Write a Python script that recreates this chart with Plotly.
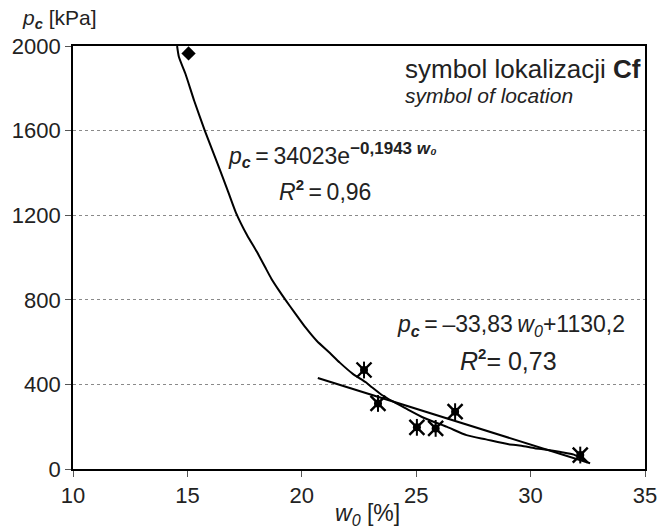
import plotly.graph_objects as go

# Exponential trend curve p_c(w0)
curve_w = [14.55, 14.63, 14.91, 15.30, 15.76, 16.33, 16.75, 17.11, 17.61, 18.03,
           18.39, 18.67, 19.03, 19.31, 19.67, 20.17, 20.66, 21.23, 21.66, 22.23,
           22.80, 23.08, 23.50, 24.00, 24.50, 25.35, 26.35, 27.20, 28.05, 29.04,
           29.60, 30.18, 30.70, 31.32, 31.89, 32.40]
curve_pc = [2000, 1948, 1870, 1740, 1600, 1440, 1320, 1215, 1105, 1028,
            956, 900, 840, 796, 742, 668, 605, 548, 503, 450,
            410, 385, 350, 318, 289, 241, 199, 160, 140, 117,
            110, 98, 91, 80, 68, 36]

# Measured points (star markers)
pts_w = [22.72, 23.33, 25.03, 25.85, 26.70, 32.17]
pts_pc = [468, 310, 197, 192, 271, 66]

# Single point shown with a diamond
dia_w = [15.05]
dia_pc = [1965]

# Linear trend p_c = -33,83 w0 + 1130,2 over its drawn span
lin_slope = -33.83
lin_icept = 1130.2
lin_w = [20.7, 32.6]
lin_pc = [lin_slope * w + lin_icept for w in lin_w]

x_ticks = [10, 15, 20, 25, 30, 35]
y_ticks = [0, 400, 800, 1200, 1600, 2000]

FONT = "Arial, Liberation Sans, Helvetica, sans-serif"
INK = "#222"

fig = go.Figure()

fig.add_trace(go.Scatter(x=curve_w, y=curve_pc, mode="lines",
                         line=dict(color="black", width=2, shape="spline",
                                   smoothing=0.6),
                         showlegend=False))
fig.add_trace(go.Scatter(x=lin_w, y=lin_pc, mode="lines",
                         line=dict(color="black", width=2), showlegend=False))
fig.add_trace(go.Scatter(x=pts_w, y=pts_pc, mode="markers",
                         marker=dict(symbol="x-thin-open", size=15, color="black",
                                     line=dict(color="black", width=2.4)),
                         showlegend=False))
fig.add_trace(go.Scatter(x=pts_w, y=pts_pc, mode="markers",
                         marker=dict(symbol="line-ns-open", size=12, color="black",
                                     line=dict(color="black", width=2)),
                         showlegend=False))
fig.add_trace(go.Scatter(x=pts_w, y=pts_pc, mode="markers",
                         marker=dict(symbol="circle", size=8, color="black"),
                         showlegend=False))
fig.add_trace(go.Scatter(x=dia_w, y=dia_pc, mode="markers",
                         marker=dict(symbol="diamond", size=11, color="black"),
                         showlegend=False))

fig.update_xaxes(range=[10, 35], tickvals=x_ticks, ticks="outside", ticklen=6,
                 tickwidth=1.2, tickcolor="#555", showgrid=False, zeroline=False,
                 showline=True, linecolor="black", linewidth=1.6, mirror=True,
                 tickfont=dict(family=FONT, size=22, color=INK))
fig.update_yaxes(range=[0, 2000], tickvals=y_ticks, ticks="outside", ticklen=6,
                 tickwidth=1.2, tickcolor="#555", showgrid=True,
                 gridcolor="#8a8a8a", gridwidth=1, griddash="3px,3px",
                 zeroline=False, showline=True, linecolor="black", linewidth=1.6,
                 mirror=True, tickfont=dict(family=FONT, size=22, color=INK))

eq_font = dict(family=FONT, size=23, color=INK)
r2_sup = "<sup><b><span style='font-size:15px'>2</span></b></sup>"
annotations = [
    dict(x=-0.093, y=1.065, xref="paper", yref="paper", xanchor="left",
         yanchor="middle", showarrow=False,
         text="<i>p</i><sub><b><i>c</i></b></sub> [kPa]",
         font=dict(family=FONT, size=21, color=INK)),
    dict(x=0.515, y=-0.108, xref="paper", yref="paper", xanchor="center",
         yanchor="middle", showarrow=False,
         text="<i>w</i><sub><i>0</i></sub> [%]",
         font=dict(family=FONT, size=23, color=INK)),
    dict(x=16.7, y=1483, xanchor="left", yanchor="middle", showarrow=False,
         text="<i>p</i><sub><b><i>c</i></b></sub>\u2009=\u200934023e"
              "<sup><span style='font-size:17px'><b>\u22120,1943 "
              "<i>w\u2080</i></b></span></sup>",
         font=eq_font),
    dict(x=21.0, y=1318, xanchor="center", yanchor="middle", showarrow=False,
         text="<i>R</i>" + r2_sup + "\u2009=\u20090,96", font=eq_font),
    dict(x=24.08, y=680, xanchor="left", yanchor="middle", showarrow=False,
         text="<i>p</i><sub><b><i>c</i></b></sub>\u2009=\u2009\u201333,83\u2009"
              "<i>w</i><sub><i>0</i></sub>+1130,2",
         font=eq_font),
    dict(x=29.05, y=515, xanchor="center", yanchor="middle", showarrow=False,
         text="<i>R</i>" + r2_sup + "= 0,73",
         font=dict(family=FONT, size=25, color=INK)),
    dict(x=24.43, y=1890, xanchor="left", yanchor="middle", showarrow=False,
         text="symbol lokalizacji <b>Cf</b>",
         font=dict(family=FONT, size=26, color=INK)),
    dict(x=24.43, y=1765, xanchor="left", yanchor="middle", showarrow=False,
         text="<i>symbol of location</i>",
         font=dict(family=FONT, size=21, color=INK)),
]

fig.update_layout(width=669, height=529,
                  margin=dict(l=66, r=16, t=46, b=60),
                  paper_bgcolor="white", plot_bgcolor="white",
                  annotations=annotations, showlegend=False)

fig.write_html("out.html")
